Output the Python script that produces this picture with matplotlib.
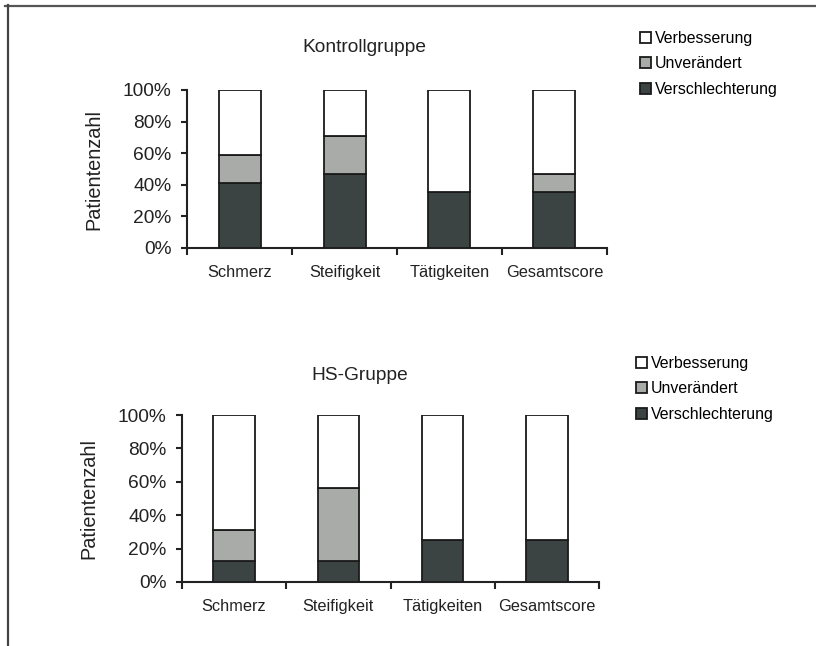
import matplotlib
matplotlib.use("Agg")
import matplotlib.pyplot as plt
from matplotlib.lines import Line2D
from matplotlib.patches import Patch
import numpy as np

plt.rcParams['font.family'] = ['Liberation Sans', 'DejaVu Sans']

categories = ["Schmerz", "Steifigkeit", "Tätigkeiten", "Gesamtscore"]
series_names = ["Verschlechterung", "Unverändert", "Verbesserung"]
colors = {"Verschlechterung": "#3b4442", "Unverändert": "#a9aba9", "Verbesserung": "#ffffff"}

# Kontrollgruppe (percent)
kontroll_verschlechterung = [41.2, 47.1, 35.3, 35.3]
kontroll_unveraendert = [17.6, 23.5, 0.0, 11.8]
kontroll_verbesserung = [41.2, 29.4, 64.7, 52.9]

# HS-Gruppe (percent)
hs_verschlechterung = [12.5, 12.5, 25.0, 25.0]
hs_unveraendert = [18.75, 43.75, 0.0, 0.0]
hs_verbesserung = [68.75, 43.75, 75.0, 75.0]

yticks = [0, 20, 40, 60, 80, 100]
ytick_labels = ["0%", "20%", "40%", "60%", "80%", "100%"]

W, H = 816, 646
fig = plt.figure(figsize=(W / 100, H / 100), dpi=100)

def px_axes(left, top, right, bottom):
    return fig.add_axes([left / W, 1 - bottom / H, (right - left) / W, (bottom - top) / H])

def draw(ax, vals, title, title_xy, legend_xy):
    x = np.arange(len(categories))
    bottom = np.zeros(len(categories))
    handles = {}
    for name, v in zip(series_names, vals):
        v = np.array(v)
        ax.bar(x, v, width=0.4, bottom=bottom, color=colors[name],
               edgecolor="#1a1a1a", linewidth=1.3, zorder=3)
        bottom += v
        handles[name] = Patch(facecolor=colors[name], edgecolor="#1a1a1a", linewidth=1.3)
    ax.set_xlim(-0.5, len(categories) - 0.5)
    ax.set_ylim(0, 100)
    for s in ["top", "right"]:
        ax.spines[s].set_visible(False)
    for s in ["left", "bottom"]:
        ax.spines[s].set_linewidth(1.5)
        ax.spines[s].set_color("#222222")
    ax.set_yticks(yticks)
    ax.set_yticklabels(ytick_labels, fontsize=13.8, color="#222222")
    ax.tick_params(axis="y", length=4, width=1.5, color="#222222", pad=7)
    ax.set_xticks(np.arange(-0.5, len(categories), 1.0))
    ax.set_xticklabels([])
    ax.set_xticks(x, minor=True)
    ax.set_xticklabels(categories, minor=True, fontsize=11.8, color="#222222")
    ax.tick_params(axis="x", which="major", length=5, width=1.5, color="#222222", direction="out")
    ax.tick_params(axis="x", which="minor", length=0, pad=12)
    ax.set_ylabel("Patientenzahl", fontsize=14.3, color="#222222", labelpad=14)
    fig.text(title_xy[0] / W, 1 - title_xy[1] / H, title, fontsize=13.8,
             ha="center", va="center", color="#222222")
    order = ["Verbesserung", "Unverändert", "Verschlechterung"]
    fig.legend([handles[n] for n in order], order, loc="upper left",
               bbox_to_anchor=(legend_xy[0] / W, 1 - legend_xy[1] / H),
               frameon=False, fontsize=11.4, handlelength=0.7, handleheight=0.7,
               handletextpad=0.25, labelspacing=0.66, borderpad=0, borderaxespad=0)

ax1 = px_axes(187, 90, 607, 248)
draw(ax1, [kontroll_verschlechterung, kontroll_unveraendert, kontroll_verbesserung],
     "Kontrollgruppe", (364, 47), (640, 31))

ax2 = px_axes(182, 415, 599, 582)
draw(ax2, [hs_verschlechterung, hs_unveraendert, hs_verbesserung],
     "HS-Gruppe", (360, 375), (636, 356))

# outer frame lines
fig.add_artist(Line2D([5 / W, 1.0], [1 - 5.5 / H, 1 - 5.5 / H], color="#555555", linewidth=1.6))
fig.add_artist(Line2D([7.5 / W, 7.5 / W], [0, 1 - 5 / H], color="#444444", linewidth=1.6))

fig.savefig("out.png", dpi=100, facecolor="white")
